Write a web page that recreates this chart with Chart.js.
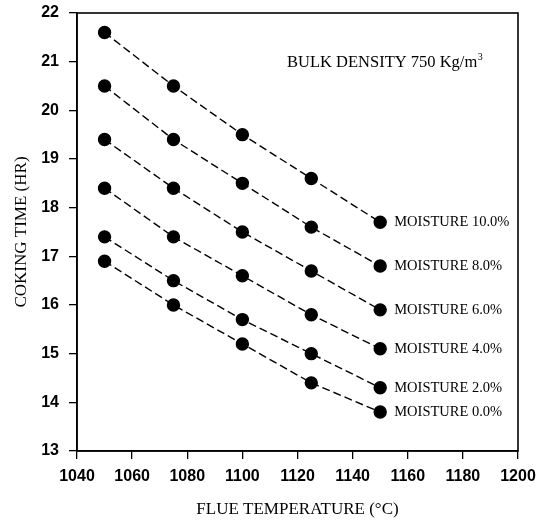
<html>
<head>
<script src="https://cdn.jsdelivr.net/npm/chart.js"></script>
<title>Coking time</title>
<style>
  body { margin: 0; background: #fff; }
  #wrap { width: 548px; height: 521px; }
</style>
</head>
<body>
<div id="wrap"><canvas id="myChart" width="548" height="521"></canvas></div>
<script>
// flue temperature (C)
const temps = [1050, 1075, 1100, 1125, 1150];
// coking time (hr) per moisture level
const moist10 = [21.6, 20.5, 19.5, 18.6, 17.7];
const moist8 = [20.5, 19.4, 18.5, 17.6, 16.8];
const moist6 = [19.4, 18.4, 17.5, 16.7, 15.9];
const moist4 = [18.4, 17.4, 16.6, 15.8, 15.1];
const moist2 = [17.4, 16.5, 15.7, 15.0, 14.3];
const moist0 = [16.9, 16.0, 15.2, 14.4, 13.8];
const seriesNames = ['MOISTURE 10.0%', 'MOISTURE 8.0%', 'MOISTURE 6.0%', 'MOISTURE 4.0%', 'MOISTURE 2.0%', 'MOISTURE 0.0%'];
const seriesVals = [moist10, moist8, moist6, moist4, moist2, moist0];
const xTicks = [1040, 1060, 1080, 1100, 1120, 1140, 1160, 1180, 1200];
const yTicks = [13, 14, 15, 16, 17, 18, 19, 20, 21, 22];

const datasets = seriesVals.map((vals, i) => ({
  label: seriesNames[i],
  data: vals.map((v, j) => ({ x: temps[j], y: v })),
  showLine: true,
  borderColor: '#000',
  backgroundColor: '#000',
  borderWidth: 1.4,
  borderDash: [8, 4],
  pointRadius: 6,
  pointHoverRadius: 6
}));

// frame, moisture labels and the note
const extras = {
  id: 'extras',
  afterDatasetsDraw(chart) {
    const ctx = chart.ctx;
    const a = chart.chartArea;
    const xs = chart.scales.x, ys = chart.scales.y;
    ctx.save();
    ctx.strokeStyle = '#000';
    ctx.lineWidth = 1.6;
    ctx.strokeRect(a.left, a.top, a.right - a.left, a.bottom - a.top);
    ctx.fillStyle = '#000';
    ctx.font = '14.5px "Liberation Serif"';
    ctx.textBaseline = 'middle';
    chart.data.datasets.forEach((ds, i) => {
      const last = ds.data[ds.data.length - 1];
      ctx.fillText(seriesNames[i], xs.getPixelForValue(last.x) + 14, ys.getPixelForValue(last.y));
    });
    ctx.font = '16.5px "Liberation Serif"';
    const nx = xs.getPixelForValue(1116.2), ny = ys.getPixelForValue(20.97);
    const t = 'BULK DENSITY 750 Kg/m';
    ctx.fillText(t, nx, ny);
    const w = ctx.measureText(t).width;
    ctx.font = '10px "Liberation Serif"';
    ctx.fillText('3', nx + w + 0.5, ny - 6);
    ctx.restore();
  }
};

new Chart(document.getElementById('myChart'), {
  type: 'scatter',
  data: { datasets: datasets },
  options: {
    responsive: false,
    animation: false,
    layout: { padding: { top: 13, right: 30, left: 0, bottom: 0 } },
    plugins: { legend: { display: false }, tooltip: { enabled: false } },
    scales: {
      x: {
        type: 'linear', min: 1040, max: 1200,
        afterBuildTicks: s => { s.ticks = xTicks.map(v => ({ value: v })); },
        afterFit: s => { s.height = 70; s.paddingLeft = 0; s.paddingRight = 0; },
        grid: { drawOnChartArea: false, drawTicks: true, tickLength: 8, color: '#000', lineWidth: 1.3 },
        border: { color: '#000', width: 1.6 },
        ticks: { color: '#000', font: { family: '"Liberation Sans"', size: 16, weight: 'bold' }, padding: 8, maxRotation: 0, callback: v => String(v) },
        title: { display: true, text: 'FLUE TEMPERATURE (\u00B0C)', color: '#000', font: { family: '"Liberation Serif"', size: 17 }, padding: { top: 4, bottom: 1 } }
      },
      y: {
        type: 'linear', min: 13, max: 22,
        afterBuildTicks: s => { s.ticks = yTicks.map(v => ({ value: v })); },
        afterFit: s => { s.width = 77; s.paddingTop = 0; s.paddingBottom = 0; },
        grid: { drawOnChartArea: false, drawTicks: true, tickLength: 8, color: '#000', lineWidth: 1.3 },
        border: { color: '#000', width: 1.6 },
        ticks: { color: '#000', font: { family: '"Liberation Sans"', size: 16, weight: 'bold' }, padding: 10, callback: v => String(v) },
        title: { display: true, text: 'COKING TIME (HR)', color: '#000', font: { family: '"Liberation Serif"', size: 17 }, padding: { top: 11, bottom: 0 } }
      }
    }
  },
  plugins: [extras]
});
</script>
</body>
</html>
